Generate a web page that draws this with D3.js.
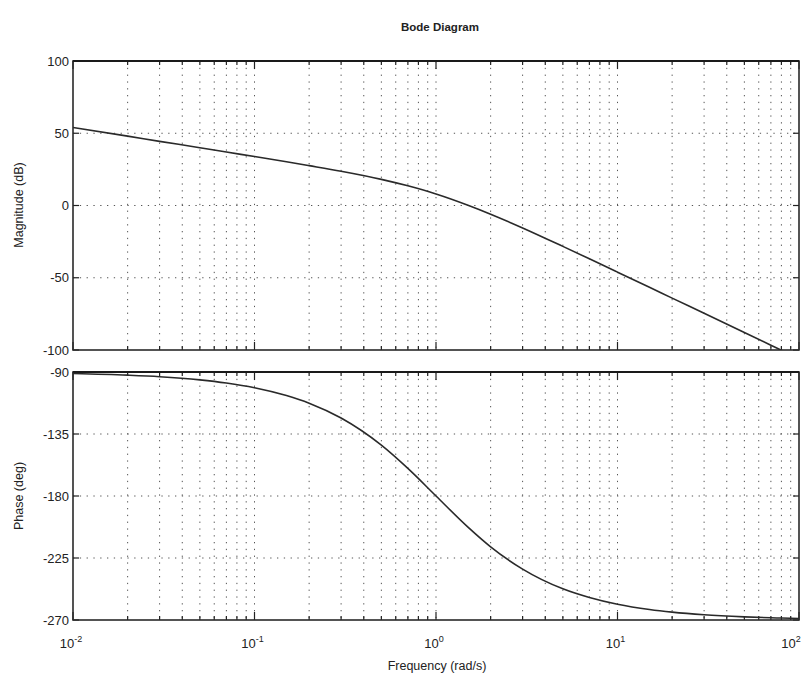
<!DOCTYPE html>
<html><head><meta charset="utf-8">
<script src="https://cdn.jsdelivr.net/npm/d3@7/dist/d3.min.js"></script>
<style>
body{margin:0;background:#fff;}
text{font-family:"Liberation Sans",Arial,Helvetica,sans-serif;fill:#222;}
</style></head>
<body><svg id="c" width="801" height="677"></svg>
<script>
// Frequency samples (rad/s)
const freq = [0.01,0.02,0.03,0.05,0.07,0.1,0.15,0.2,0.3,0.5,0.7,1,1.5,2,3,5,7,10,15,20,30,50,70,80,100];
// Magnitude (dB)
const magnitude = [54.0,48.0,44.4,40.0,37.0,33.9,30.3,27.6,23.7,18.1,13.6,8.0,0.2,-6.0,-15.5,-28.3,-36.9,-46.1,-56.6,-64.1,-74.6,-87.9,-96.7,-100.2,-106.0];
// Phase (deg)
const phase = [-91.1,-92.3,-93.4,-95.7,-98.0,-101.4,-107.1,-112.6,-123.4,-143.1,-160.0,-180.0,-202.6,-216.9,-233.1,-247.4,-253.7,-258.6,-262.4,-264.3,-266.2,-267.7,-268.4,-268.6,-268.9];
const magTicks = [-100,-50,0,50,100];
const phaseTicks = [-270,-225,-180,-135,-90];
const freqTicks = [-2,-1,0,1,2]; // exponents of 10

const svg = d3.select("#c");
const L = 73, R = 799;
const x = d3.scaleLog().domain([0.01,100]).range([L,R]);
const yM = d3.scaleLinear().domain([-100,100]).range([350,61]);
const yP = d3.scaleLinear().domain([-270,-90]).range([620,372]);

// minor grid positions
const minor = [];
for (let e=-2; e<2; e++) for (let m=1; m<10; m++) minor.push(m*Math.pow(10,e));
minor.push(100);

function panel(y, ticks, vals, clipId){
  const g = svg.append("g");
  const [y0,y1] = y.range();
  g.selectAll("line.vg").data(minor.filter(v=>v>0.01 && v<100)).enter().append("line")
    .attr("x1",d=>x(d)).attr("x2",d=>x(d)).attr("y1",y1).attr("y2",y0)
    .attr("stroke","#555").attr("stroke-width",1).attr("stroke-dasharray","1.3,5.5");
  g.selectAll("line.hg").data(ticks.slice(1,-1)).enter().append("line")
    .attr("x1",L).attr("x2",R).attr("y1",d=>y(d)).attr("y2",d=>y(d))
    .attr("stroke","#555").attr("stroke-width",1).attr("stroke-dasharray","1.3,5.5");
  const isMajor = d=>{const lg=Math.log10(d);return Math.abs(lg-Math.round(lg))<1e-9;};
  g.selectAll("line.tb").data(minor).enter().append("line")
    .attr("x1",d=>x(d)).attr("x2",d=>x(d)).attr("y1",y0).attr("y2",d=>y0-(isMajor(d)?8:4))
    .attr("stroke","#222").attr("stroke-width",1.2);
  g.selectAll("line.tt").data(minor).enter().append("line")
    .attr("x1",d=>x(d)).attr("x2",d=>x(d)).attr("y1",y1).attr("y2",d=>y1+(isMajor(d)?8:4))
    .attr("stroke","#222").attr("stroke-width",1.2);
  g.selectAll("line.yl").data(ticks).enter().append("line")
    .attr("x1",L).attr("x2",L+6).attr("y1",d=>y(d)).attr("y2",d=>y(d)).attr("stroke","#222").attr("stroke-width",1.2);
  g.selectAll("line.yr").data(ticks).enter().append("line")
    .attr("x1",R).attr("x2",R-6).attr("y1",d=>y(d)).attr("y2",d=>y(d)).attr("stroke","#222").attr("stroke-width",1.2);
  g.selectAll("text.yt").data(ticks).enter().append("text")
    .attr("x",L-4).attr("y",d=>y(d)+4.5).attr("text-anchor","end").attr("font-size",13).text(d=>d);
  g.append("rect").attr("x",L).attr("y",y1).attr("width",R-L).attr("height",y0-y1)
    .attr("fill","none").attr("stroke","#2a2a2a").attr("stroke-width",1.6);
  g.append("line").attr("x1",L).attr("x2",R).attr("y1",y1).attr("y2",y1).attr("stroke","#1a1a1a").attr("stroke-width",2.2);
  svg.append("clipPath").attr("id",clipId).append("rect").attr("x",L).attr("y",y1).attr("width",R-L).attr("height",y0-y1);
  const line = d3.line().x((d,i)=>x(freq[i])).y(d=>y(d)).curve(d3.curveMonotoneX);
  g.append("path").datum(vals).attr("d",line).attr("fill","none").attr("stroke","#2a2a2a")
    .attr("stroke-width",1.6).attr("clip-path",`url(#${clipId})`);
}
panel(yM, magTicks, magnitude, "cm");
panel(yP, phaseTicks, phase, "cp");

// x tick labels
const xl = svg.selectAll("text.xt").data(freqTicks).enter().append("text")
  .attr("x",d=>Math.min(x(Math.pow(10,d))-2, 791)).attr("y",648).attr("text-anchor","middle").attr("font-size",13);
xl.append("tspan").text("10");
xl.append("tspan").attr("dy",-6).attr("font-size",9).text(d=>d);

svg.append("text").attr("x",440).attr("y",31).attr("text-anchor","middle").attr("font-size",11.5)
  .attr("font-weight","bold").text("Bode Diagram");
svg.append("text").attr("x",437).attr("y",670).attr("text-anchor","middle").attr("font-size",12.5).text("Frequency  (rad/s)");
svg.append("text").attr("transform","translate(23,205) rotate(-90)").attr("text-anchor","middle").attr("font-size",12.5).text("Magnitude (dB)");
svg.append("text").attr("transform","translate(23,496) rotate(-90)").attr("text-anchor","middle").attr("font-size",12.5).text("Phase (deg)");
</script></body></html>
